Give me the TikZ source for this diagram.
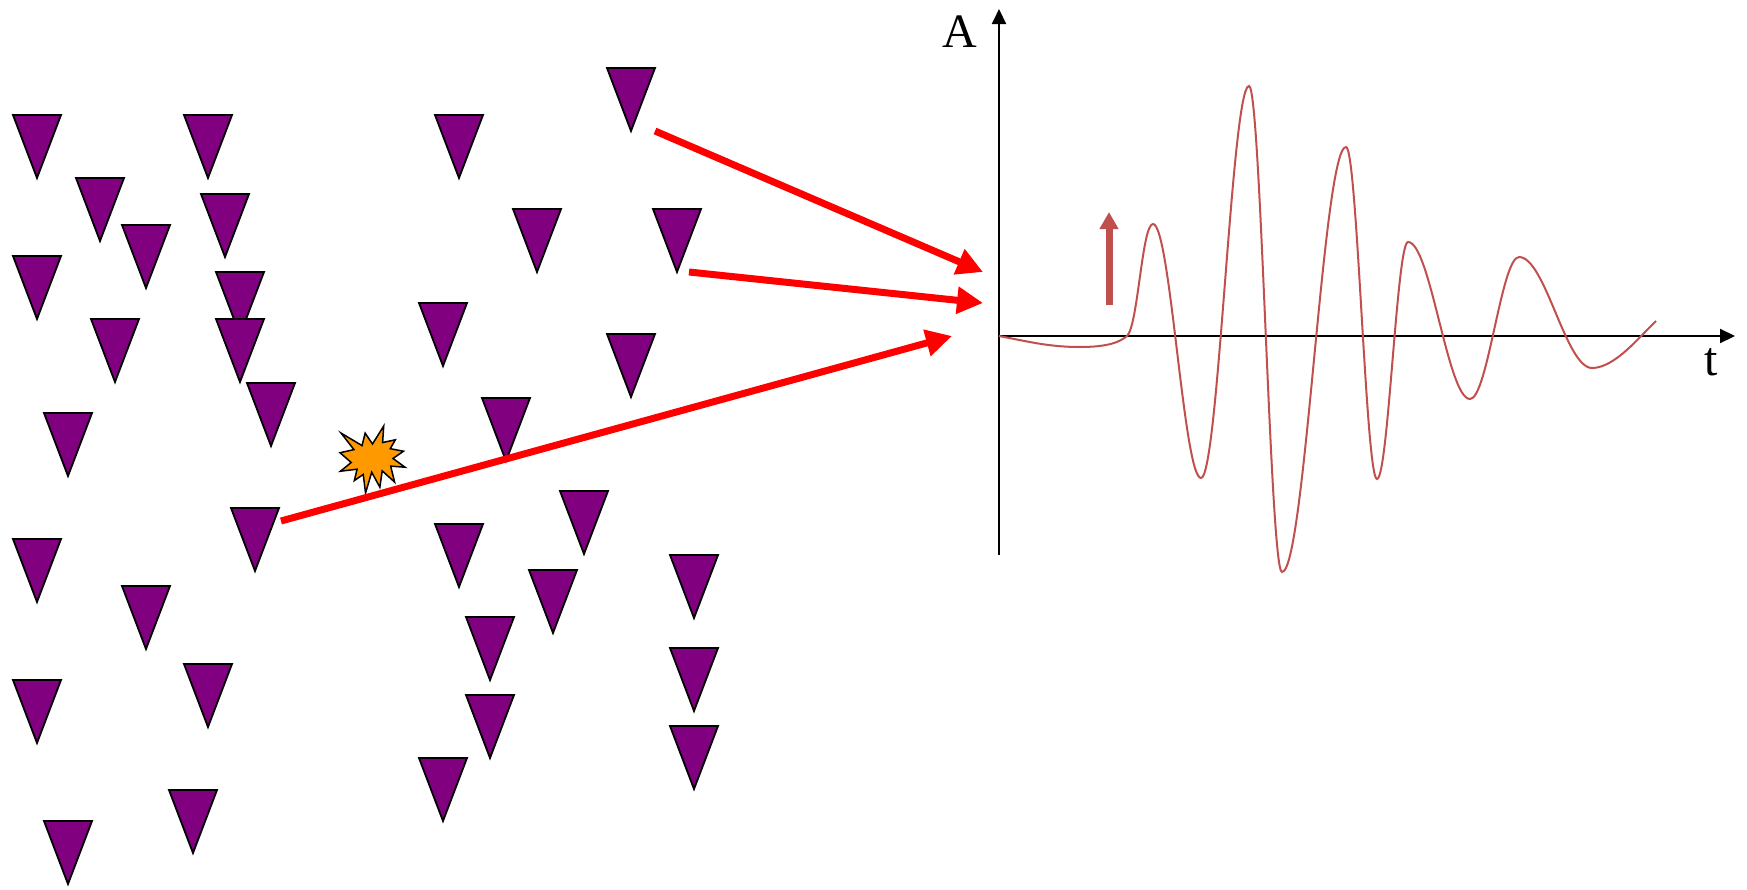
\documentclass[tikz,border=0pt]{standalone}
\usepackage{fontspec}
\setmainfont{Liberation Serif}
\usetikzlibrary{arrows.meta}
\definecolor{purp}{HTML}{800080}
\definecolor{wavec}{HTML}{C0504D}
\definecolor{burst}{HTML}{FF9900}
\begin{document}
\begin{tikzpicture}[x=1pt,y=-1pt,
  sensor/.style={fill=purp,draw=black,line width=1.8pt,line join=miter},
  ray/.style={red,line width=7pt,-{Triangle[length=26pt,width=26pt]}},
  axisline/.style={black,line width=2pt,-{Triangle[length=15pt,width=14pt]}},
  waveline/.style={wavec,line width=2pt},
  lbl/.style={font=\fontsize{48}{48}\selectfont,inner sep=0pt,anchor=base}]
\useasboundingbox (0,0) rectangle (1747,889);
% sensors
\foreach \x/\y in {37/115,208/115,100/178,225/194,146/225,37/256,240/272,115/319,240/319,271/383,68/413,
                   459/115,631/68,537/209,677/209,443/303,631/334,506/398,255/508,37/539,146/586,
                   459/524,584/491,553/570,694/555,490/617,694/648,208/664,37/680,490/695,694/726,
                   443/758,193/790,68/821}
  {\draw[sensor] (\x-24,\y) -- (\x+24,\y) -- (\x,\y+63) -- cycle;}
% event
\begin{scope}[shift={(340,426)},xscale=0.301,yscale=0.310]
\draw[fill=burst,line width=1.5pt,line join=miter]
 (108,58) -- (145.22,0) -- (141.55,53.25) -- (183.8,44.57) -- (167.02,73.15) -- (210.97,81.37)
 -- (176.07,104.75) -- (216,132.9) -- (168.37,129.42) -- (181.45,180.95) -- (140.2,144.57)
 -- (132.47,197.37) -- (105.32,149.35) -- (84.85,216) -- (77.15,156.27) -- (47.62,176.17)
 -- (56.67,139.37) -- (1.35,145.87) -- (37.22,117.75) -- (0,86.15) -- (46.27,76.17)
 -- (3.7,22.95) -- (73.12,63.2) -- (83.52,22.95) -- cycle;
\end{scope}
% rays
\coordinate (r1s) at (655,131); \coordinate (r1e) at (983,272);
\coordinate (r2s) at (689,272); \coordinate (r2e) at (983,303);
\coordinate (r3s) at (281,521); \coordinate (r3e) at (952,336);
\draw[ray] (r1s) -- (r1e);
\draw[ray] (r2s) -- (r2e);
\draw[ray] (r3s) -- (r3e);
% axes
\coordinate (O) at (999,336);
\coordinate (ybot) at (999,555);
\coordinate (ytop) at (999,9);
\coordinate (xend) at (1735,336);
\draw[axisline] (ybot) -- (ytop);
\draw[axisline] (O) -- (xend);
\node[lbl] (A) at (960,47) {A};
\node[lbl] (t) at (1711,375) {t};
% waveform
\draw[waveline] (O) .. controls (1030,342) and (1050,347) .. (1080,347)
 .. controls (1108,347) and (1120,342) .. (1127,336)
 .. controls (1138,326) and (1142,224) .. (1153,224)
 .. controls (1170.3,224) and (1183.7,478) .. (1201,478)
 .. controls (1218.3,478) and (1231.7,86) .. (1249,86)
 .. controls (1260.9,86) and (1270.1,572) .. (1282,572)
 .. controls (1305,572) and (1323,147) .. (1346,147)
 .. controls (1357.2,147) and (1365.8,479) .. (1377,479)
 .. controls (1388.2,479) and (1396.8,242) .. (1408,242)
 .. controls (1430.3,242) and (1447.7,399) .. (1470,399)
 .. controls (1487.6,399) and (1501.4,257) .. (1519,257)
 .. controls (1545.3,257) and (1565.7,368) .. (1592,368)
 .. controls (1615,368) and (1640,336) .. (1656,321);
% small arrow
\coordinate (sa1) at (1109,305);
\coordinate (sa2) at (1109,212);
\draw[wavec,line width=7pt,-{Triangle[length=17pt,width=18pt]}] (sa1) -- (sa2);
\end{tikzpicture}
\end{document}
